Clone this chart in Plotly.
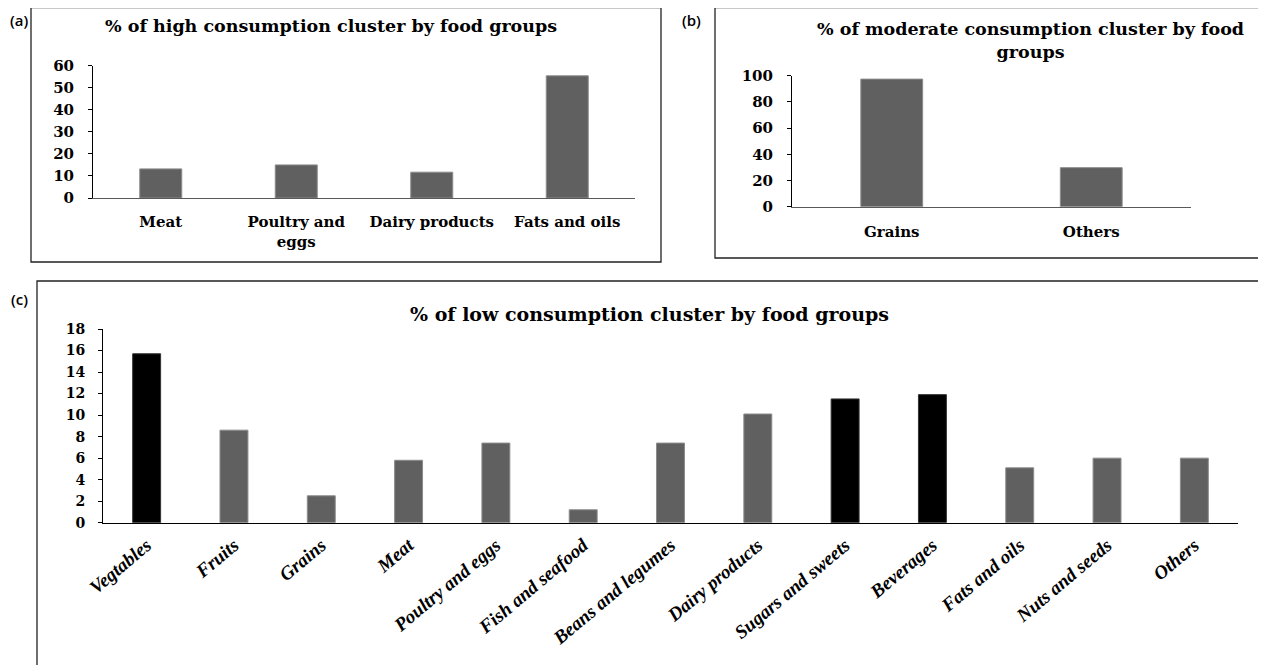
import plotly.graph_objects as go

# the page keeps an 8px body margin; figure coordinates are page coordinates minus OFF
OFF = 8
W, H = 1266, 665

# ---- data ----
high_cats = ["Meat", "Poultry and<br>eggs", "Dairy products", "Fats and oils"]
high_vals = [13.2, 15.0, 11.7, 55.4]

mod_cats = ["Grains", "Others"]
mod_vals = [97.4, 29.8]

low_cats = ["Vegtables", "Fruits", "Grains", "Meat", "Poultry and eggs", "Fish and seafood",
            "Beans and legumes", "Dairy products", "Sugars and sweets", "Beverages",
            "Fats and oils", "Nuts and seeds", "Others"]
low_vals = [15.7, 8.6, 2.5, 5.8, 7.4, 1.2, 7.4, 10.1, 11.5, 11.9, 5.1, 6.0, 6.0]
low_highlight = ["Vegtables", "Sugars and sweets", "Beverages"]

high_ticks = [0, 10, 20, 30, 40, 50, 60]
mod_ticks = [0, 20, 40, 60, 80, 100]
low_ticks = [0, 2, 4, 6, 8, 10, 12, 14, 16, 18]

GRAY = "#606060"
BLACK = "#000000"
SERIF = "DejaVu Serif"
TIMES = "Liberation Serif"
SANS = "Open Sans"


def px(x):
    return (x - OFF) / W


def py(y):
    return 1 - (y - OFF) / H


fig = go.Figure()

fig.add_trace(go.Bar(x=high_cats, y=high_vals, width=0.31, xaxis="x", yaxis="y",
                     marker=dict(color=GRAY, line=dict(color="#8c8c8c", width=1))))
fig.add_trace(go.Bar(x=mod_cats, y=mod_vals, width=0.31, xaxis="x2", yaxis="y2",
                     marker=dict(color=GRAY, line=dict(color="#8c8c8c", width=1))))
low_colors = [BLACK if c in low_highlight else GRAY for c in low_cats]
low_lines = ["#333333" if c in low_highlight else "#8c8c8c" for c in low_cats]
fig.add_trace(go.Bar(x=low_cats, y=low_vals, width=0.32, xaxis="x3", yaxis="y3",
                     marker=dict(color=low_colors, line=dict(color=low_lines, width=1))))

tickfont_ab = dict(family=SERIF, size=15, color="black", weight="bold")
tickfont_c = dict(family=SERIF, size=14, color="black", weight="bold")

common_y = dict(showgrid=False, zeroline=False, showline=True, linecolor="black", linewidth=1,
                ticks="outside", ticklen=4, tickcolor="black", automargin=False)
common_x = dict(showgrid=False, zeroline=False, showline=True, linewidth=1.2, ticks="",
                type="category", automargin=False)

fig.update_layout(
    width=W, height=H, margin=dict(l=0, r=0, t=0, b=0, autoexpand=False),
    paper_bgcolor="white", plot_bgcolor="white", showlegend=False,
    xaxis=dict(common_x, domain=[px(93), px(635)], anchor="y", linecolor="#595959",
               ticklabelstandoff=10, tickfont=tickfont_ab),
    yaxis=dict(common_y, domain=[py(198), py(65.7)], anchor="x", range=[0, 60],
               tickvals=high_ticks, tickfont=tickfont_ab, ticklabelstandoff=11),
    xaxis2=dict(common_x, domain=[px(792), px(1191)], anchor="y2", linecolor="#595959",
                ticklabelstandoff=11, tickfont=tickfont_ab),
    yaxis2=dict(common_y, domain=[py(206.7), py(75.7)], anchor="x2", range=[0, 100],
                tickvals=mod_ticks, tickfont=tickfont_ab, ticklabelstandoff=11),
    xaxis3=dict(common_x, domain=[px(103), px(1238)], anchor="y3", linecolor="black",
                tickangle=-40, ticklabelstandoff=3,
                tickfont=dict(family=TIMES, size=19, color="black", weight="bold",
                              style="italic")),
    yaxis3=dict(common_y, domain=[py(522.7), py(329)], anchor="x3", range=[0, 18],
                tickvals=low_ticks, tickfont=tickfont_c, ticklabelstandoff=10),
)

# panel boxes (c extends past the page edges)
for (x0, y0, x1, y1) in [(31, 7.5, 661, 262), (715, 7.5, 1263, 258), (37, 281, 1265, 680)]:
    fig.add_shape(type="rect", xref="paper", yref="paper",
                  x0=px(x0), x1=px(x1), y0=py(y1), y1=py(y0),
                  line=dict(color="#222222", width=1.3), fillcolor="rgba(0,0,0,0)")

titlefont = dict(family=SERIF, size=17.5, color="black", weight="bold")
annots = [
    dict(text="% of high consumption cluster by food groups", x=px(331), y=py(26),
         font=titlefont),
    dict(text="% of moderate consumption cluster by food<br>groups", x=px(1030), y=py(41),
         font=titlefont),
    dict(text="% of low consumption cluster by food groups", x=px(649), y=py(314),
         font=dict(titlefont, size=19)),
]
for a in annots:
    fig.add_annotation(xref="paper", yref="paper", showarrow=False, xanchor="center",
                       yanchor="middle", **a)

labfont = dict(family=SANS, size=15, color="black", weight=600)
for t, x, y in [("(a)", 19, 9), ("(b)", 691, 9), ("(c)", 19, 288)]:
    fig.add_annotation(text=t, xref="paper", yref="paper", x=px(x), y=py(y), showarrow=False,
                       xanchor="center", yanchor="top", borderpad=0, font=labfont)

fig.write_html("out.html", config={"displayModeBar": False})
